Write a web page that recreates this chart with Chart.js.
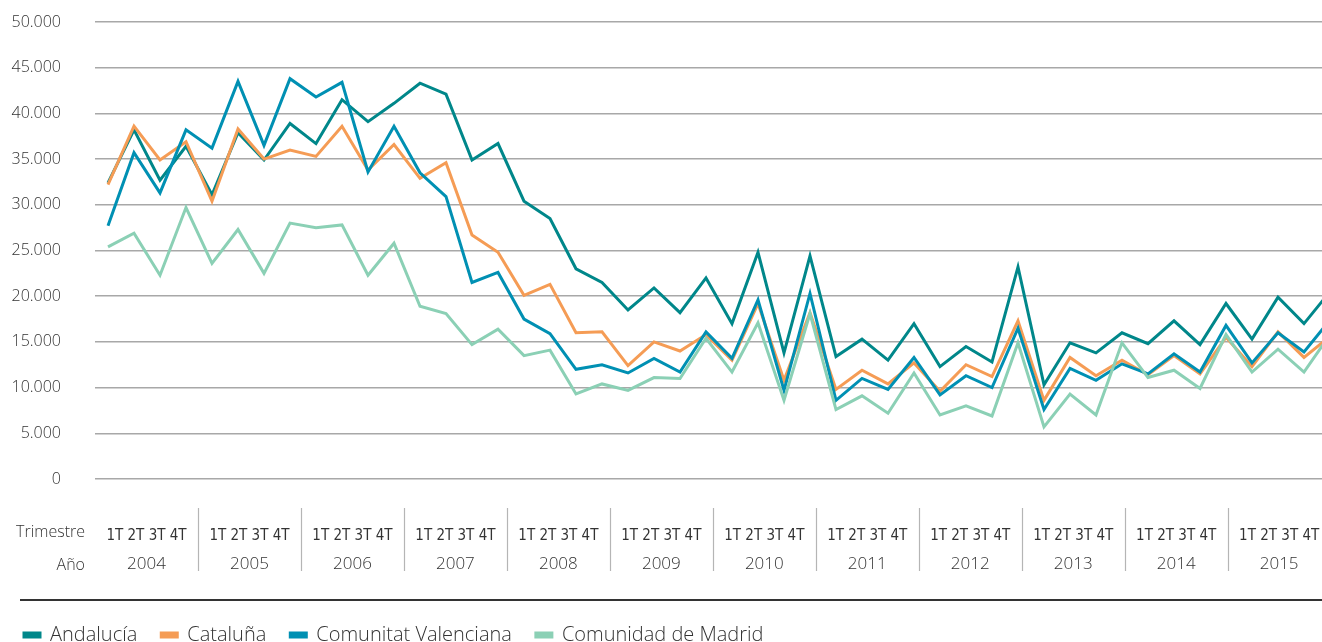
<!DOCTYPE html>
<html lang="es">
<head>
<meta charset="utf-8">
<title>Viviendas por trimestre 2004-2015</title>
<script src="https://cdn.jsdelivr.net/npm/chart.js@4.4.1/dist/chart.umd.min.js"></script>
<style>
  html, body { margin: 0; padding: 0; background: #fff; overflow: hidden; }
  #wrap { width: 1343px; height: 655px; }
</style>
</head>
<body>
<div id="wrap"><canvas id="trimChart" width="1343" height="655"></canvas></div>
<script>
// categories
const years = ['2004', '2005', '2006', '2007', '2008', '2009', '2010', '2011', '2012', '2013', '2014', '2015'];
const quarters = ['1T', '2T', '3T', '4T'];
const yTicks = [0, 5000, 10000, 15000, 20000, 25000, 30000, 35000, 40000, 45000, 50000];

// series, one value per quarter (1T 2004 ... 4T 2015)
const andalucia = [
  32400, 38200, 32700, 36400,  31100, 37900, 34900, 38900,  36700, 41500, 39100, 41100,
  43300, 42100, 34900, 36700,  30400, 28500, 23000, 21500,  18500, 20900, 18200, 22000,
  17000, 24800, 13800, 24400,  13400, 15300, 13000, 17000,  12300, 14500, 12800, 23200,
  10300, 14900, 13800, 16000,  14800, 17300, 14700, 19200,  15300, 19900, 17000, 20500
];
const cataluna = [
  32200, 38600, 34900, 36900,  30400, 38300, 35000, 36000,  35300, 38600, 33800, 36600,
  32900, 34600, 26700, 24800,  20100, 21300, 16000, 16100,  12400, 15000, 14000, 15800,
  13000, 19200, 10800, 18200,   9800, 11900, 10400, 12700,   9600, 12500, 11200, 17300,
   8600, 13300, 11300, 13000,  11400, 13500, 11500, 15500,  12300, 16100, 13300, 15600
];
const valenciana = [
  27700, 35700, 31300, 38200,  36200, 43500, 36500, 43800,  41800, 43400, 33600, 38600,
  33500, 30900, 21500, 22600,  17500, 15900, 12000, 12500,  11600, 13200, 11700, 16100,
  13200, 19600,  9700, 20300,   8600, 11000,  9800, 13300,   9200, 11300, 10000, 16500,
   7600, 12100, 10800, 12600,  11500, 13700, 11700, 16800,  12700, 16000, 13900, 17400
];
const madrid = [
  25400, 26900, 22300, 29700,  23600, 27300, 22500, 28000,  27500, 27800, 22300, 25800,
  18900, 18100, 14700, 16400,  13500, 14100,  9300, 10400,   9700, 11100, 11000, 15400,
  11700, 17100,  8600, 18100,   7600,  9100,  7200, 11600,   7000,  8000,  6900, 14900,
   5700,  9300,  7000, 14900,  11100, 11900,  9900, 15800,  11700, 14200, 11700, 15800
];

const quarterLabels = [];
years.forEach(y => quarters.forEach(q => quarterLabels.push(q + ' ' + y)));

// the year table under the plot is a bit narrower than the plot itself
const yearSpan = 12.12;

const textColor = '#333333';
const thousands = v => String(v).replace(/\B(?=(\d{3})+(?!\d))/g, '.');

// year separators, row titles and the rule above the legend
const yearFrame = {
  id: 'yearFrame',
  afterDraw(chart) {
    const ctx = chart.ctx;
    const ys = chart.scales.years;
    ctx.save();
    ctx.strokeStyle = '#b5b5b5';
    ctx.lineWidth = 1.2;
    for (let k = 1; k < years.length; k++) {
      const px = Math.round(ys.getPixelForValue(k)) + 0.5;
      ctx.beginPath();
      ctx.moveTo(px, 508);
      ctx.lineTo(px, 571);
      ctx.stroke();
    }
    ctx.fillStyle = textColor;
    ctx.textAlign = 'right';
    ctx.textBaseline = 'middle';
    ctx.font = '300 16px "Open Sans"';
    ctx.fillText('Trimestre', 85, 532);
    ctx.fillText('Año', 85, 565);

    ctx.strokeStyle = '#333';
    ctx.lineWidth = 2;
    ctx.beginPath();
    ctx.moveTo(20, 600);
    ctx.lineTo(chart.width, 600);
    ctx.stroke();
    ctx.restore();
  }
};

const makeSet = (label, data, color, order) => ({
  label,
  data,
  borderColor: color,
  backgroundColor: color,
  borderWidth: 3,
  borderJoinStyle: 'miter',
  pointRadius: 0,
  tension: 0,
  order
});

// invisible tick marks push the labels away from the plot
// (ticks.padding would also shrink the plot area)
const hiddenTicks = len => ({
  display: true,
  drawOnChartArea: false,
  drawTicks: true,
  tickLength: len,
  tickColor: 'rgba(0,0,0,0)'
});

const yearRowTicks = s => { s.ticks = years.map((y, i) => ({ value: i + 0.5 })); };

const ctx = document.getElementById('trimChart').getContext('2d');
new Chart(ctx, {
  type: 'line',
  data: {
    labels: quarterLabels,
    datasets: [
      makeSet('Andalucía', andalucia, '#00878a', 3),
      makeSet('Cataluña', cataluna, '#f59c55', 2),
      makeSet('Comunitat Valenciana', valenciana, '#0090b3', 1),
      makeSet('Comunidad de Madrid', madrid, '#8bd0b5', 0)
    ]
  },
  options: {
    responsive: false,
    animation: false,
    layout: { padding: { top: 22, left: 0, right: 0, bottom: 0 } },
    plugins: {
      tooltip: { enabled: false },
      legend: {
        position: 'bottom',
        align: 'start',
        labels: {
          boxWidth: 16,
          boxHeight: 4,
          padding: 24,
          color: textColor,
          font: { family: '"Open Sans"', size: 20, weight: 300 },
          sort: (a, b) => a.datasetIndex - b.datasetIndex
        }
      }
    },
    scales: {
      x: {
        type: 'category',
        offset: true,
        display: false
      },
      trim: {
        type: 'linear',
        position: 'bottom',
        min: 0,
        max: yearSpan,
        afterBuildTicks: yearRowTicks,
        grid: hiddenTicks(48),
        border: { display: false },
        ticks: {
          autoSkip: false,
          maxRotation: 0,
          padding: 0,
          color: textColor,
          font: { family: '"Liberation Sans Narrow", "DejaVu Sans Condensed", sans-serif', size: 15 },
          callback: () => quarters.join(' ')
        },
        afterFit: s => { s.height = 70; }
      },
      years: {
        type: 'linear',
        position: 'bottom',
        min: 0,
        max: yearSpan,
        afterBuildTicks: yearRowTicks,
        grid: hiddenTicks(5),
        border: { display: false },
        ticks: {
          autoSkip: false,
          maxRotation: 0,
          padding: 0,
          color: textColor,
          font: { family: '"Open Sans"', size: 17, weight: 300 },
          callback: v => years[Math.floor(v)]
        },
        afterFit: s => { s.height = 52; }
      },
      y: {
        min: 0,
        max: 50000,
        afterBuildTicks: s => { s.ticks = yTicks.map(v => ({ value: v })); },
        grid: { color: '#a8a8a8', lineWidth: 1.5, drawTicks: true, tickLength: 33, tickColor: 'rgba(0,0,0,0)' },
        border: { display: false },
        ticks: {
          padding: 1,
          color: textColor,
          font: { family: '"Open Sans"', size: 16, weight: 300 },
          callback: v => thousands(v)
        },
        afterFit: s => { s.width = 95; }
      }
    }
  },
  plugins: [yearFrame]
});
</script>
</body>
</html>
